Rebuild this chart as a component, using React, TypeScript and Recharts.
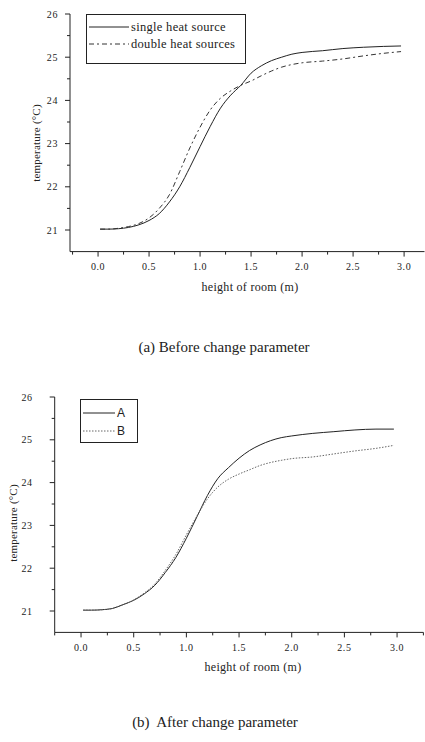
import React from 'react';
import { LineChart, Line, XAxis, YAxis } from 'recharts';

// x positions (m) shared by both series of each chart
const heightsA = [0.02, 0.1, 0.2, 0.3, 0.4, 0.5, 0.6, 0.7, 0.8, 0.9, 1.0, 1.1, 1.2, 1.3, 1.4, 1.5, 1.6, 1.7, 1.8, 1.9, 2.0, 2.2, 2.4, 2.6, 2.8, 2.97];
const singleSource = [21.02, 21.02, 21.03, 21.06, 21.12, 21.22, 21.38, 21.65, 22.0, 22.45, 22.93, 23.4, 23.82, 24.12, 24.35, 24.63, 24.8, 24.92, 25.0, 25.07, 25.11, 25.15, 25.2, 25.23, 25.25, 25.26];
const doubleSources = [21.02, 21.02, 21.04, 21.08, 21.15, 21.28, 21.5, 21.82, 22.35, 22.9, 23.38, 23.78, 24.05, 24.22, 24.35, 24.45, 24.57, 24.68, 24.77, 24.83, 24.87, 24.91, 24.96, 25.03, 25.09, 25.13];

const heightsB = [0.02, 0.1, 0.2, 0.3, 0.4, 0.5, 0.6, 0.7, 0.8, 0.9, 1.0, 1.1, 1.2, 1.3, 1.4, 1.5, 1.6, 1.7, 1.8, 1.9, 2.0, 2.2, 2.4, 2.6, 2.8, 2.97];
const seriesA = [21.02, 21.02, 21.03, 21.06, 21.15, 21.25, 21.4, 21.6, 21.9, 22.25, 22.7, 23.2, 23.7, 24.1, 24.35, 24.57, 24.75, 24.88, 24.98, 25.05, 25.09, 25.15, 25.19, 25.23, 25.25, 25.25];
const seriesB = [21.02, 21.02, 21.03, 21.06, 21.15, 21.26, 21.42, 21.63, 21.95, 22.32, 22.78, 23.22, 23.62, 23.9, 24.08, 24.2, 24.3, 24.4, 24.47, 24.52, 24.56, 24.6, 24.67, 24.74, 24.8, 24.87];

const xTicksA = [-0.25, 0, 0.25, 0.5, 0.75, 1.0, 1.25, 1.5, 1.75, 2.0, 2.25, 2.5, 2.75, 3.0];
const xTicksB = [-0.25, 0, 0.25, 0.5, 0.75, 1.0, 1.25, 1.5, 1.75, 2.0, 2.25, 2.5, 2.75, 3.0, 3.25];
const yTicks = [20.5, 21, 21.5, 22, 22.5, 23, 23.5, 24, 24.5, 25, 25.5, 26];

const namesA = ['single heat source', 'double heat sources'];
const namesB = ['A', 'B'];

const dataA = heightsA.map((h, i) => ({ h, s1: singleSource[i], s2: doubleSources[i] }));
const dataB = heightsB.map((h, i) => ({ h, s1: seriesA[i], s2: seriesB[i] }));

const FONT = '"Liberation Serif", "DejaVu Serif", serif';
const INK = '#222';
const TS = 5;
const TM = 2;

const isHalf = (v: number) => Math.abs(v * 2 - Math.round(v * 2)) < 1e-6;
const isInt = (v: number) => Math.abs(v - Math.round(v)) < 1e-6;

const makeXTick = (labelGap: number) => (props: any) => {
  const { x, y, payload } = props;
  const axisY = y - TS - TM;
  const major = isHalf(payload.value);
  return (
    <g>
      <line x1={x} x2={x} y1={axisY} y2={axisY + (major ? 5 : 3)} stroke={INK} />
      {major && (
        <text x={x} y={axisY + labelGap} dy="0.35em" textAnchor="middle" fontSize={10} fontFamily={FONT} fill={INK} letterSpacing={0.6}>
          {payload.value.toFixed(1)}
        </text>
      )}
    </g>
  );
};

const makeYTick = (labelGap: number) => (props: any) => {
  const { x, y, payload } = props;
  const axisX = x + TS + TM;
  const major = isInt(payload.value);
  if (payload.value < 20.75) return <g />;
  return (
    <g>
      <line x1={axisX} x2={axisX - (major ? 5 : 3)} y1={y} y2={y} stroke={INK} />
      {major && (
        <text x={axisX - labelGap} y={y} dy="0.35em" textAnchor="end" fontSize={10} fontFamily={FONT} fill={INK} letterSpacing={0.6}>
          {Math.round(payload.value)}
        </text>
      )}
    </g>
  );
};

type PanelProps = {
  data: any[];
  names: string[];
  xTicks: number[];
  xDomain: [number, number];
  yAxisWidth: number;
  rightMargin: number;
  xAxisHeight: number;
  yLabelGap: number;
  dash2: string;
  color2: string;
};

function Panel(p: PanelProps) {
  return (
    <LineChart width={425} height={300} data={p.data} margin={{ top: 14, right: p.rightMargin, left: 0, bottom: 0 }}>
      <XAxis
        dataKey="h"
        type="number"
        domain={p.xDomain}
        ticks={p.xTicks}
        interval={0}
        allowDataOverflow
        height={p.xAxisHeight}
        tickSize={TS}
        tickMargin={TM}
        tickLine={false}
        axisLine={{ stroke: INK }}
        tick={makeXTick(15)}
      />
      <YAxis
        type="number"
        domain={[20.5, 26]}
        ticks={yTicks}
        interval={0}
        allowDataOverflow
        width={p.yAxisWidth}
        tickSize={TS}
        tickMargin={TM}
        tickLine={false}
        axisLine={{ stroke: INK }}
        tick={makeYTick(p.yLabelGap)}
      />
      <Line type="monotone" dataKey="s1" name={p.names[0]} stroke={INK} strokeWidth={1} dot={false} isAnimationActive={false} />
      <Line type="monotone" dataKey="s2" name={p.names[1]} stroke={p.color2} strokeWidth={1} strokeDasharray={p.dash2} dot={false} isAnimationActive={false} />
    </LineChart>
  );
}

function LegendBox(props: { left: number; top: number; width: number; height: number; names: string[]; dashes: string[]; colors: string[]; sample: number; rows: number[] }) {
  const long = props.names[0].length > 3;
  return (
    <div style={{ position: 'absolute', left: props.left, top: props.top, width: props.width, height: props.height, border: '1px solid #222', boxSizing: 'border-box', fontFamily: FONT }}>
      {props.names.map((n, i) => (
        <div key={n} style={{ position: 'absolute', left: 2, top: props.rows[i] - 8, height: 16, display: 'flex', alignItems: 'center', whiteSpace: 'nowrap' }}>
          <svg width={props.sample} height={4} style={{ display: 'block' }}>
            <line x1={0} x2={props.sample} y1={2} y2={2} stroke={props.colors[i]} strokeWidth={1} strokeDasharray={props.dashes[i]} />
          </svg>
          <span style={{ fontSize: long ? 12.5 : 12, marginLeft: 2, color: '#222', letterSpacing: 0.3, fontFamily: long ? FONT : '"Liberation Sans", sans-serif' }}>{n}</span>
        </div>
      ))}
    </div>
  );
}

const textStyle: React.CSSProperties = { position: 'absolute', fontFamily: FONT, color: '#222', whiteSpace: 'nowrap' };

export default function App() {
  return (
    <div style={{ position: 'absolute', left: 0, top: 0, width: 425, height: 742, background: '#fff', overflow: 'hidden' }}>
      <div style={{ position: 'absolute', left: 0, top: 0 }}>
        <Panel data={dataA} names={namesA} xTicks={xTicksA} xDomain={[-0.275, 3.2]} yAxisWidth={70} rightMargin={0.5} xAxisHeight={48.4} yLabelGap={12} dash2="5 3 2 3" color2="#333" />
      </div>
      <LegendBox left={86} top={14} width={160} height={50} names={namesA} dashes={['', '5 3 2 3']} colors={[INK, '#333']} sample={40} rows={[12, 29]} />
      <div style={{ ...textStyle, left: 250, top: 287, transform: 'translate(-50%, -50%)', fontSize: 12, letterSpacing: 0.3 }}>height of room (m)</div>
      <div style={{ ...textStyle, left: 36, top: 143, transform: 'translate(-50%, -50%) rotate(-90deg)', fontSize: 11, letterSpacing: 0.2 }}>temperature (°C)</div>
      <div style={{ ...textStyle, left: 224, top: 347, transform: 'translate(-50%, -50%)', fontSize: 15 }}>(a) Before change parameter</div>

      <div style={{ position: 'absolute', left: 0, top: 383 }}>
        <Panel data={dataB} names={namesB} xTicks={xTicksB} xDomain={[-0.25, 3.25]} yAxisWidth={54.7} rightMargin={1.6} xAxisHeight={50.6} yLabelGap={22} dash2="1.5 1.5" color2="#666" />
      </div>
      <LegendBox left={80} top={399} width={58} height={44} names={namesB} dashes={['', '1.5 1.5']} colors={[INK, '#666']} sample={32} rows={[13, 31]} />
      <div style={{ ...textStyle, left: 253, top: 667, transform: 'translate(-50%, -50%)', fontSize: 12, letterSpacing: 0.3 }}>height of room (m)</div>
      <div style={{ ...textStyle, left: 13, top: 523, transform: 'translate(-50%, -50%) rotate(-90deg)', fontSize: 11, letterSpacing: 0.2 }}>temperature (°C)</div>
      <div style={{ ...textStyle, left: 215, top: 722, transform: 'translate(-50%, -50%)', fontSize: 15 }}>(b)&nbsp; After change parameter</div>
    </div>
  );
}
